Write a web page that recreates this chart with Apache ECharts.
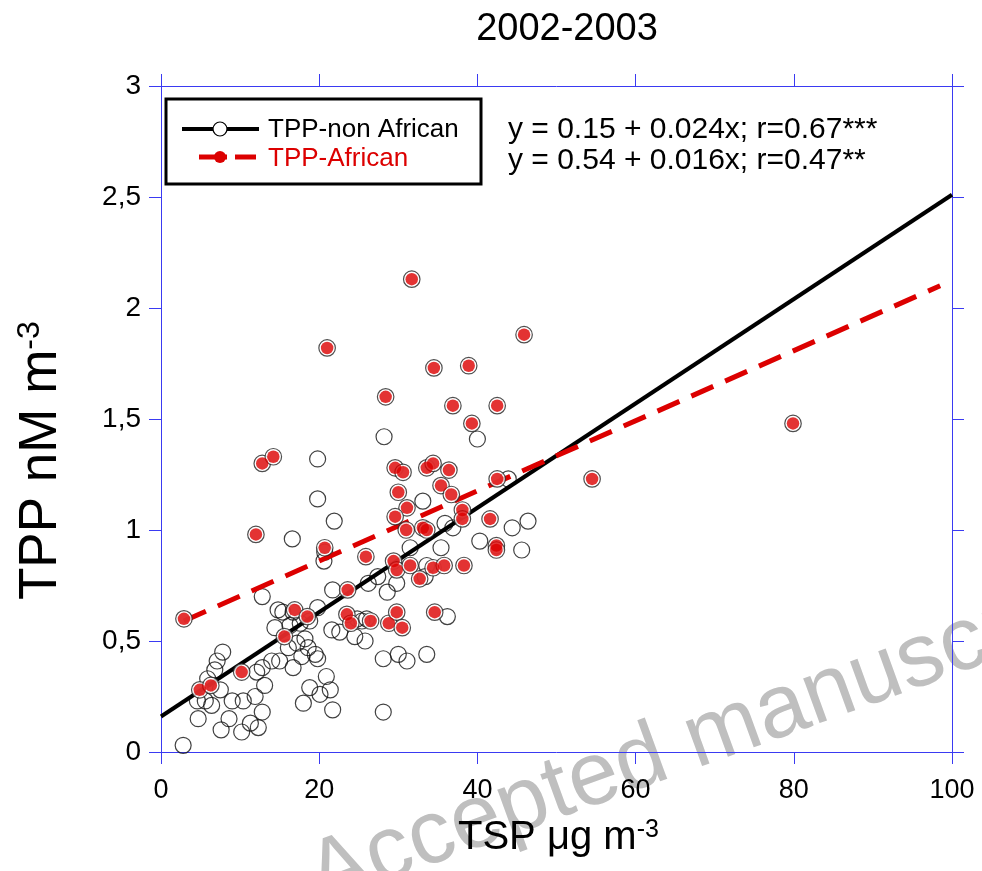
<!DOCTYPE html>
<html>
<head>
    <meta charset="utf-8">
    <script src="https://cdn.jsdelivr.net/npm/echarts@6/dist/echarts.min.js"></script>
</head>
<body style="margin:0;background:#fff;">
    <div id="tpp" style="width:982px;height:871px;"></div>
    <script type="text/javascript">
        // TSP (x) and TPP (y)
        var nonAfricanTsp = [2.8, 7.8, 7.1, 6.8, 5.9, 7.5, 4.6, 5.6, 6.4, 4.7, 8.6, 7.6, 9.0, 10.4, 11.9, 13.1, 12.1, 12.8, 14.0,
            10.2, 11.3, 12.3, 12.8, 12.8, 14.8, 14.4, 16.3, 16.7, 16.1, 15.0, 16.7, 16.6, 19.8, 19.8, 21.9, 20.7, 21.7,
            18.8, 19.8, 17.6, 17.2, 18.2, 18.6, 17.8, 19.5, 19.8, 20.9, 18.8, 21.4, 20.1, 18.0, 21.7, 22.6, 21.6, 24.5,
            25.8, 24.8, 25.4, 26.0, 26.2, 27.4, 28.6, 29.8, 28.1, 30.0, 31.1, 33.6, 28.1, 28.2, 40.0, 33.1, 35.9, 36.9,
            43.9, 44.4, 46.4, 40.3, 45.6, 31.5, 35.4, 33.6, 33.4, 36.2, 15.4, 20.6];
        var nonAfricanTpp = [0.03, 0.45, 0.41, 0.37, 0.33, 0.28, 0.23, 0.23, 0.21, 0.15, 0.15, 0.10, 0.23, 0.23, 0.25, 0.30, 0.36, 0.38, 0.41,
            0.09, 0.13, 0.11, 0.18, 0.70, 0.64, 0.56, 0.57, 0.63, 0.47, 0.41, 0.38, 0.96, 1.32, 1.14, 1.04, 0.90, 0.73,
            0.59, 0.65, 0.58, 0.49, 0.51, 0.47, 0.43, 0.44, 0.42, 0.34, 0.29, 0.28, 0.26, 0.22, 0.19, 0.54, 0.55, 0.52,
            0.50, 0.60, 0.59, 0.60, 0.76, 0.79, 0.72, 0.76, 0.42, 0.44, 0.41, 0.44, 0.18, 1.42, 1.41, 1.13, 1.03, 1.01,
            1.23, 1.01, 1.04, 0.95, 0.91, 0.92, 0.92, 0.84, 0.79, 0.61, 0.63, 0.86];

        var africanTsp = [2.9, 4.9, 6.3, 10.2, 15.6, 12.0, 12.8, 14.2, 21.0, 20.7, 16.9, 18.5, 25.9, 29.4, 29.8, 31.5, 23.6,
            23.5, 24.0, 26.5, 28.8, 29.8, 30.5, 29.6, 30.6, 33.6, 34.4, 36.4, 30.0, 35.4, 36.7, 31.1, 29.6, 38.1, 38.1,
            31.0, 33.1, 33.6, 42.5, 41.6, 42.4, 42.4, 32.7, 34.4, 35.8, 38.3, 34.6, 31.7, 45.9, 34.5, 38.9, 28.4, 36.9,
            42.5, 39.3, 79.9, 54.5];
        var africanTpp = [0.60, 0.28, 0.30, 0.36, 0.52, 0.98, 1.30, 1.33, 1.82, 0.92, 0.64, 0.61, 0.88, 0.86, 0.82, 0.84, 0.73,
            0.62, 0.58, 0.59, 0.58, 0.63, 0.56, 1.28, 1.26, 1.28, 1.30, 1.27, 1.17, 1.20, 1.16, 1.10, 1.06, 1.09, 1.05,
            1.00, 1.01, 1.00, 1.23, 1.05, 0.93, 0.91, 0.78, 0.83, 0.84, 0.84, 0.63, 2.13, 1.88, 1.73, 1.74, 1.60, 1.56,
            1.56, 1.48, 1.48, 1.23];

        // regression lines as drawn
        var fitNonTsp = [0, 100];
        var fitNonTpp = [0.16, 2.51];
        var fitAfrTsp = [2.9, 98.5];
        var fitAfrTpp = [0.59, 2.1];

        var xTicks = [0, 100, 20];
        var yTicks = [0, 3, 0.5];

        function pairs(xs, ys) {
            var out = [];
            for (var i = 0; i < xs.length; i++) out.push([xs[i], ys[i]]);
            return out;
        }

        var FONT = '"Liberation Sans", Arial, sans-serif';
        var BLUE = '#3a3af2';
        var RED = '#dc0000';

        var chart = echarts.init(document.getElementById('tpp'));
        var axisBase = {
            type: 'value', min: 0, splitLine: { show: false },
            axisLine: { show: true, onZero: false, lineStyle: { color: BLUE, width: 1 } },
            axisTick: { show: true, inside: false, length: 12, lineStyle: { color: BLUE, width: 1 } }
        };
        var option = {
            animation: false,
            grid: { left: 161, right: 30, top: 86, bottom: 119 },
            xAxis: [
                echarts.util.merge({
                    position: 'bottom', min: xTicks[0], max: xTicks[1], interval: xTicks[2],
                    axisLabel: { color: '#000', fontSize: 27, fontFamily: FONT, margin: 25 }
                }, axisBase),
                echarts.util.merge({
                    position: 'top', min: xTicks[0], max: xTicks[1], interval: xTicks[2],
                    axisLabel: { show: false }
                }, axisBase)
            ],
            yAxis: [
                echarts.util.merge({
                    position: 'left', min: yTicks[0], max: yTicks[1], interval: yTicks[2],
                    axisLabel: {
                        color: '#000', fontSize: 28, fontFamily: FONT, margin: 20,
                        formatter: function (v) { return String(v).replace('.', ','); }
                    }
                }, axisBase),
                echarts.util.merge({
                    position: 'right', min: yTicks[0], max: yTicks[1], interval: yTicks[2],
                    axisLabel: { show: false }
                }, axisBase)
            ],
            series: [
                {
                    name: 'TPP-non African', type: 'scatter', data: pairs(nonAfricanTsp, nonAfricanTpp),
                    symbol: 'circle', symbolSize: 16,
                    itemStyle: { color: 'rgba(0,0,0,0)', borderColor: '#111', borderWidth: 1.2 }, z: 2
                },
                {
                    type: 'line', data: pairs(fitNonTsp, fitNonTpp), showSymbol: false,
                    lineStyle: { color: '#000', width: 4 }, z: 3
                },
                {
                    type: 'line', data: pairs(fitAfrTsp, fitAfrTpp), showSymbol: false,
                    lineStyle: { color: RED, width: 5, type: [24, 13] }, z: 4
                },
                {
                    type: 'scatter', data: pairs(africanTsp, africanTpp),
                    symbol: 'circle', symbolSize: 16.5,
                    itemStyle: { color: '#fff', borderColor: '#222', borderWidth: 1.2 }, z: 5
                },
                {
                    name: 'TPP-African', type: 'scatter', data: pairs(africanTsp, africanTpp),
                    symbol: 'circle', symbolSize: 12.5,
                    itemStyle: { color: RED }, z: 6
                }
            ],
            graphic: [
                // watermark
                {
                    type: 'text', x: 327, y: 924, rotation: 20 * Math.PI / 180, z: -10, silent: true,
                    style: { text: 'Accepted manuscript', font: '90px ' + FONT, fill: '#bfbfbf',
                        textAlign: 'left', textVerticalAlign: 'bottom' }
                },
                {
                    type: 'text', x: 567, y: 30,
                    style: { text: '2002-2003', font: '38px ' + FONT, fill: '#000', textAlign: 'center', textVerticalAlign: 'middle' }
                },
                // legend box
                { type: 'rect', shape: { x: 166, y: 99, width: 315, height: 85 },
                  style: { fill: '#fff', stroke: '#000', lineWidth: 3 }, z: 20 },
                { type: 'line', shape: { x1: 182, y1: 129, x2: 259, y2: 129 }, style: { stroke: '#000', lineWidth: 4 }, z: 21 },
                { type: 'circle', shape: { cx: 220, cy: 129, r: 7 }, style: { fill: '#fff', stroke: '#000', lineWidth: 1.2 }, z: 22 },
                { type: 'text', x: 268, y: 130, z: 21,
                  style: { text: 'TPP-non African', font: '26px ' + FONT, fill: '#000', textVerticalAlign: 'middle' } },
                { type: 'line', shape: { x1: 199, y1: 157, x2: 227, y2: 157 }, style: { stroke: RED, lineWidth: 5 }, z: 21 },
                { type: 'line', shape: { x1: 235, y1: 157, x2: 256, y2: 157 }, style: { stroke: RED, lineWidth: 5 }, z: 21 },
                { type: 'circle', shape: { cx: 220, cy: 157, r: 6 }, style: { fill: RED }, z: 22 },
                { type: 'text', x: 268, y: 159, z: 21,
                  style: { text: 'TPP-African', font: '26px ' + FONT, fill: RED, textVerticalAlign: 'middle' } },
                // equations
                { type: 'text', x: 508, y: 130, z: 21,
                  style: { text: 'y = 0.15 + 0.024x; r=0.67***', font: '30px ' + FONT, fill: '#000', textVerticalAlign: 'middle' } },
                { type: 'text', x: 508, y: 161, z: 21,
                  style: { text: 'y = 0.54 + 0.016x; r=0.47**', font: '30px ' + FONT, fill: '#000', textVerticalAlign: 'middle' } },
                // axis names
                { type: 'text', x: 458, y: 838,
                  style: { text: '{a|TSP μg m}{b|-3}', textVerticalAlign: 'middle',
                      rich: { a: { fontSize: 40, fontFamily: FONT, color: '#000' },
                              b: { fontSize: 25, fontFamily: FONT, color: '#000', verticalAlign: 'top' } } } },
                { type: 'text', x: 41, y: 600, rotation: Math.PI / 2,
                  style: { text: '{a|TPP nM m}{b|-3}', textVerticalAlign: 'middle',
                      rich: { a: { fontSize: 53, fontFamily: FONT, color: '#000' },
                              b: { fontSize: 32, fontFamily: FONT, color: '#000', verticalAlign: 'top' } } } }
            ]
        };
        chart.setOption(option);
    </script>
</body>
</html>
